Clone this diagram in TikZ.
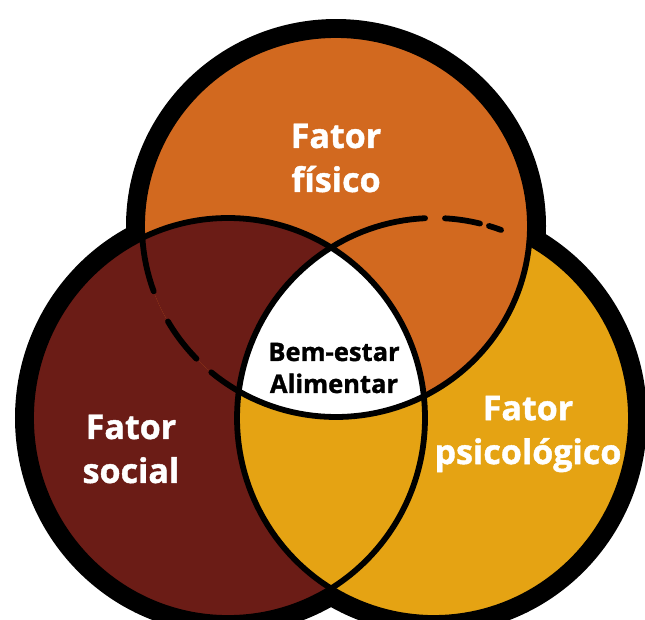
\documentclass[tikz,border=0pt]{standalone}
\usepackage{fontspec}
\setmainfont{Open Sans}[BoldFeatures={FakeBold=1.2}]
\definecolor{cOrange}{HTML}{D2691F}
\definecolor{cDark}{HTML}{6B1C16}
\definecolor{cYellow}{HTML}{E5A313}
\begin{document}
\begin{tikzpicture}[x=1pt,y=-1pt,
  band/.style={line width=32pt, draw=black},
  edgeline/.style={line width=5.8pt, line cap=round, draw=black},
  biglabel/.style={text=white, font=\bfseries\fontsize{34}{44}\selectfont, align=center, inner sep=0pt},
  smalllabel/.style={text=black, font=\bfseries\fontsize{25.5}{32}\selectfont, align=center, inner sep=0pt}]
\useasboundingbox (0,0) rectangle (645,619);
\fill[white] (0,0) rectangle (645,619);
\begin{scope}
\clip (0,0) rectangle (645,619);
% thick outer bands (inner halves get covered by fills)
\draw[band] (228,418) ellipse [x radius=197pt, y radius=200pt];
\draw[band] (434,418) ellipse [x radius=197pt, y radius=200pt];
\draw[band] (336,226) ellipse [x radius=194pt, y radius=191pt];
% fills
\fill[cDark] (228,418) ellipse [x radius=197pt, y radius=200pt];
\fill[cYellow] (434,418) ellipse [x radius=197pt, y radius=200pt];
\fill[cOrange] (336,226) ellipse [x radius=194pt, y radius=191pt];
\begin{scope}
  \clip (336,226) ellipse [x radius=194pt, y radius=191pt];
  \fill[cDark] (228,418) ellipse [x radius=197pt, y radius=200pt];
  \clip (228,418) ellipse [x radius=197pt, y radius=200pt];
  \fill[white] (434,418) ellipse [x radius=197pt, y radius=200pt];
\end{scope}
% thin edges
\draw[edgeline] (228,418) ellipse [x radius=197pt, y radius=200pt];
\draw[edgeline] plot[domain=160:490, samples=160, variable=\t] ({336+194*cos(\t)},{226+191*sin(\t)});
\draw[edgeline] plot[domain=136:150, samples=20, variable=\t] ({336+194*cos(\t)},{226+191*sin(\t)});
\draw[edgeline] plot[domain=299:627.4, samples=160, variable=\t] ({434+197*cos(\t)},{418+200*sin(\t)});
\draw[edgeline] plot[domain=273.2:283.5, samples=12, variable=\t] ({434+197*cos(\t)},{418+200*sin(\t)});
\draw[edgeline] plot[domain=286.2:289.9, samples=6, variable=\t] ({434+197*cos(\t)},{418+200*sin(\t)});
\end{scope}
% labels
\node[biglabel] (lblT) at (336,158) {Fator\\físico};
\node[biglabel] (lblL) at (131,449) {Fator\\social};
\node[biglabel] (lblR) at (528,434) {Fator\\psicológico};
\node[smalllabel] (lblC) at (334,368) {Bem-estar\\Alimentar};
\end{tikzpicture}
\end{document}
